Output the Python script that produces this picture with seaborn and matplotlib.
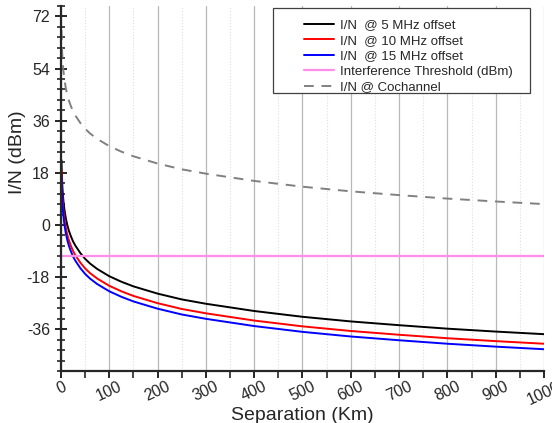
import matplotlib
matplotlib.use("Agg")
import matplotlib.pyplot as plt
import seaborn as sns
from matplotlib.patches import Rectangle
from matplotlib.ticker import MultipleLocator

# distance (km) and I/N values
dist = [1, 1.5, 2, 3, 4, 5, 7, 10, 13, 16, 20, 25, 30, 40, 50, 60, 75, 100, 125, 150,
        200, 250, 300, 400, 500, 600, 700, 800, 900, 1000]
in_5mhz = [22.3, 18.8, 16.3, 12.8, 10.3, 8.3, 5.4, 2.3, 0.0, -1.8, -3.7, -5.7, -7.2, -9.7,
           -11.7, -13.3, -15.2, -17.7, -19.6, -21.2, -23.7, -25.7, -27.2, -29.7, -31.7,
           -33.3, -34.6, -35.8, -36.8, -37.7]
in_10mhz = [19.0, 15.5, 13.0, 9.5, 7.0, 5.0, 2.1, -1.0, -3.3, -5.1, -7.0, -9.0, -10.5, -13.0,
            -15.0, -16.6, -18.5, -21.0, -22.9, -24.5, -27.0, -29.0, -30.5, -33.0, -35.0,
            -36.6, -37.9, -39.1, -40.1, -41.0]
in_15mhz = [17.1, 13.6, 11.1, 7.6, 5.1, 3.1, 0.2, -2.9, -5.2, -7.0, -8.9, -10.9, -12.4, -14.9,
            -16.9, -18.5, -20.4, -22.9, -24.8, -26.4, -28.9, -30.9, -32.4, -34.9, -36.9,
            -38.5, -39.8, -41.0, -42.0, -42.9]
in_cochannel = [67.2, 63.7, 61.2, 57.7, 55.2, 53.2, 50.3, 47.2, 44.9, 43.1, 41.2, 39.2, 37.7,
                35.2, 33.2, 31.6, 29.7, 27.2, 25.3, 23.7, 21.2, 19.2, 17.7, 15.2, 13.2, 11.6,
                10.3, 9.1, 8.1, 7.2]
threshold = -10.6
thr_dist = [0, 1000]

labels = ["I/N  @ 5 MHz offset", "I/N  @ 10 MHz offset", "I/N  @ 15 MHz offset",
          "Interference Threshold (dBm)", "I/N @ Cochannel"]

sns.set_style("ticks")
plt.rcParams['font.family'] = ['Liberation Sans', 'DejaVu Sans']
plt.rcParams['axes.unicode_minus'] = False

fig = plt.figure(figsize=(5.52, 4.23), dpi=100)
ax = fig.add_axes([0.1105, 0.123, 0.875, 0.863])

sns.lineplot(x=dist, y=in_5mhz, color="black", lw=1.4, ax=ax, label=labels[0])
sns.lineplot(x=dist, y=in_10mhz, color="#ff0000", lw=1.4, ax=ax, label=labels[1])
sns.lineplot(x=dist, y=in_15mhz, color="#0000ff", lw=1.4, ax=ax, label=labels[2])
sns.lineplot(x=thr_dist, y=[threshold, threshold], color="#ff8ee8", lw=1.6, ax=ax, label=labels[3])
sns.lineplot(x=dist, y=in_cochannel, color="#808080", lw=1.4, ax=ax, label=labels[4])
ax.lines[-1].set_dashes((5, 4))

ax.set_xlim(0, 1000)
ax.set_ylim(-50.4, 75.6)
ax.xaxis.set_major_locator(MultipleLocator(100))
ax.xaxis.set_minor_locator(MultipleLocator(50))
ax.yaxis.set_major_locator(MultipleLocator(18))
ax.yaxis.set_minor_locator(MultipleLocator(3.6))

ax.grid(axis="x", which="major", color="#b8b8b8", lw=0.9)
ax.grid(axis="x", which="minor", color="#dddddd", lw=0.8, ls=":")
ax.set_axisbelow(True)

ax.spines["top"].set_visible(False)
ax.spines["right"].set_visible(False)
for s in ("left", "bottom"):
    ax.spines[s].set_linewidth(1.6)

ax.tick_params(axis="y", which="major", direction="inout", length=9, width=1.4, labelsize=11.5)
ax.tick_params(axis="y", which="minor", direction="inout", length=6, width=1.2)
ax.tick_params(axis="x", which="major", direction="out", length=5, width=1.4, labelsize=11.5,
               labelrotation=25, pad=1)
ax.tick_params(axis="x", which="minor", direction="out", length=5, width=1.2)
for t in ax.get_xticklabels():
    t.set_ha("center")

ax.set_xlabel("Separation (Km)", fontsize=14, labelpad=-1)
ax.set_ylabel("I/N (dBm)", fontsize=14)
ax.yaxis.set_label_coords(-0.072, 0.6)

# legend frame drawn separately (reference box has wide side margins)
box = Rectangle((273 / 552, 1 - 93 / 423), 257 / 552, 85 / 423,
                transform=fig.transFigure, facecolor="white",
                edgecolor="#404040", lw=0.9, zorder=5, clip_on=False)
ax.add_artist(box)
leg = ax.legend(loc="upper left", bbox_to_anchor=(304 / 552, 1 - 19 / 423),
                bbox_transform=fig.transFigure, fontsize=9.5, frameon=False,
                handlelength=2.3, handletextpad=0.4, borderpad=0,
                labelspacing=0.25, borderaxespad=0)
leg.set_zorder(6)

fig.savefig("out.png", dpi=100)
